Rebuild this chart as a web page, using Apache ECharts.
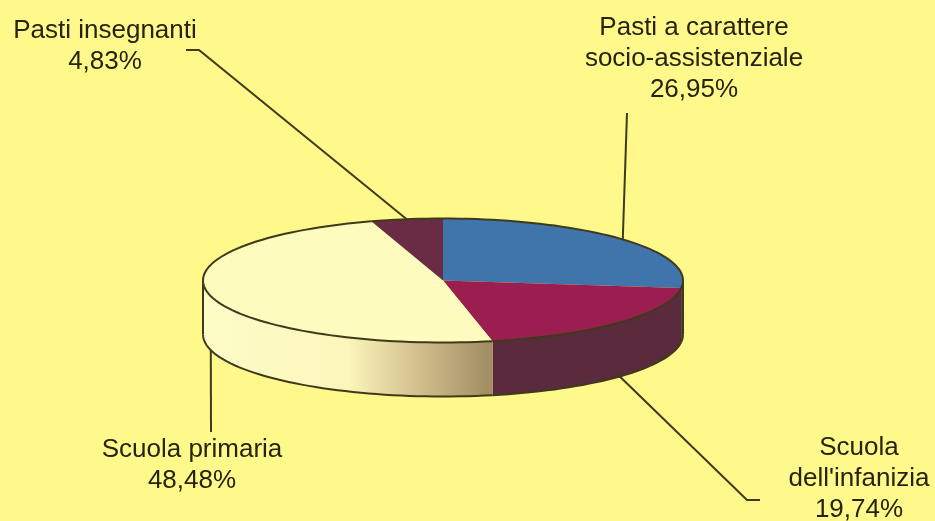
<!DOCTYPE html>
<html lang="it">
<head>
  <meta charset="UTF-8" />
  <title>Pasti</title>
  <script src="https://cdn.jsdelivr.net/npm/echarts@6/dist/echarts.min.js"></script>
  <style>
    html, body { margin: 0; padding: 0; background: #fef98a; }
    #chart { width: 935px; height: 521px; }
  </style>
</head>
<body>
  <div id="chart"></div>

  <script>
    // data, clockwise from the top of the pie
    const categories = ['Pasti a carattere\nsocio-assistenziale', "Scuola\ndell'infanizia", 'Scuola primaria', 'Pasti insegnanti'];
    const shares = [26.95, 19.74, 48.48, 4.83];

    // pie drawn as a flattened disc
    const disc = { cx: 443, cy: 280.5, rx: 240, ry: 62, depth: 54 };
    const outline = '#3f3a1a';
    const textColor = '#26240f';

    const topColors = ['#3f75ab', '#9a1f50', '#fdfbbd', '#6a2b45'];
    const creamWall = new echarts.graphic.LinearGradient(0, 0, 1, 0, [
      { offset: 0, color: '#fdfcc8' },
      { offset: 0.5, color: '#fbf6bb' },
      { offset: 0.75, color: '#d2bd8d' },
      { offset: 1, color: '#a08b62' }
    ]);
    const wallColors = ['#3a2436', '#5a2b3c', creamWall, '#4a2236'];

    // label centre, y of first line, and the outer points of the leader line
    const labelLayout = [
      { x: 694, y: 12, leader: [[627, 113]] },
      { x: 859, y: 432, leader: [[747, 500], [760, 500]] },
      { x: 192, y: 434, leader: [[211, 432]] },
      { x: 105, y: 15, leader: [[199, 50], [186, 50]] }
    ];

    const total = shares.reduce((a, b) => a + b, 0);

    function rimPoint(deg, dy) {
      const a = deg * Math.PI / 180;
      return [disc.cx + disc.rx * Math.sin(a), disc.cy - disc.ry * Math.cos(a) + (dy || 0)];
    }

    function arcPoints(from, to, dy) {
      const pts = [];
      const steps = Math.max(2, Math.ceil((to - from) / 2));
      for (let i = 0; i <= steps; i++) {
        pts.push(rimPoint(from + (to - from) * i / steps, dy));
      }
      return pts;
    }

    function renderSlice(params, api) {
      const i = params.dataIndex;
      let start = 0;
      for (let k = 0; k < i; k++) start += shares[k] / total * 360;
      const end = start + api.value(0) / total * 360;
      const mid = (start + end) / 2;
      const children = [];

      // leader line starts on the rim at the middle of the slice
      const isFront = mid > 90 && mid < 270;
      const anchor = rimPoint(mid, isFront ? disc.depth : 0);
      const layout = labelLayout[i];
      children.push({
        type: 'polyline',
        shape: { points: [anchor].concat(layout.leader) },
        style: { fill: null, stroke: outline, lineWidth: 2 }
      });

      // side wall, only the front half of the rim shows
      const wallFrom = Math.max(start, 90);
      const wallTo = Math.min(end, 270);
      if (wallFrom < wallTo) {
        const upper = arcPoints(wallFrom, wallTo, 0);
        const lower = arcPoints(wallFrom, wallTo, disc.depth);
        children.push({
          type: 'polygon',
          shape: { points: upper.concat(lower.slice().reverse()) },
          style: { fill: wallColors[i], stroke: null }
        });
        children.push({
          type: 'polyline',
          shape: { points: lower },
          style: { fill: null, stroke: outline, lineWidth: 2 }
        });
        // vertical edges where the wall turns away
        [90, 270].forEach(function (deg) {
          if (deg === wallFrom || deg === wallTo) {
            children.push({
              type: 'polyline',
              shape: { points: [rimPoint(deg, 0), rimPoint(deg, disc.depth)] },
              style: { fill: null, stroke: outline, lineWidth: 2 }
            });
          }
        });
      }

      // top of the slice
      const rim = arcPoints(start, end, 0);
      children.push({
        type: 'polygon',
        shape: { points: [[disc.cx, disc.cy]].concat(rim) },
        style: { fill: topColors[i], stroke: null }
      });
      children.push({
        type: 'polyline',
        shape: { points: rim },
        style: { fill: null, stroke: outline, lineWidth: 2 }
      });

      children.push({
        type: 'text',
        style: {
          x: layout.x,
          y: layout.y,
          text: categories[i] + '\n' + api.value(0).toFixed(2).replace('.', ',') + '%',
          textAlign: 'center',
          textVerticalAlign: 'top',
          fontFamily: 'Liberation Sans',
          fontSize: 26,
          lineHeight: 31,
          fill: textColor
        }
      });

      return { type: 'group', children: children };
    }

    const chart = echarts.init(document.getElementById('chart'));
    chart.setOption({
      animation: false,
      backgroundColor: '#fef98a',
      series: [{
        type: 'custom',
        coordinateSystem: 'none',
        renderItem: renderSlice,
        data: shares
      }]
    });
  </script>
</body>
</html>
